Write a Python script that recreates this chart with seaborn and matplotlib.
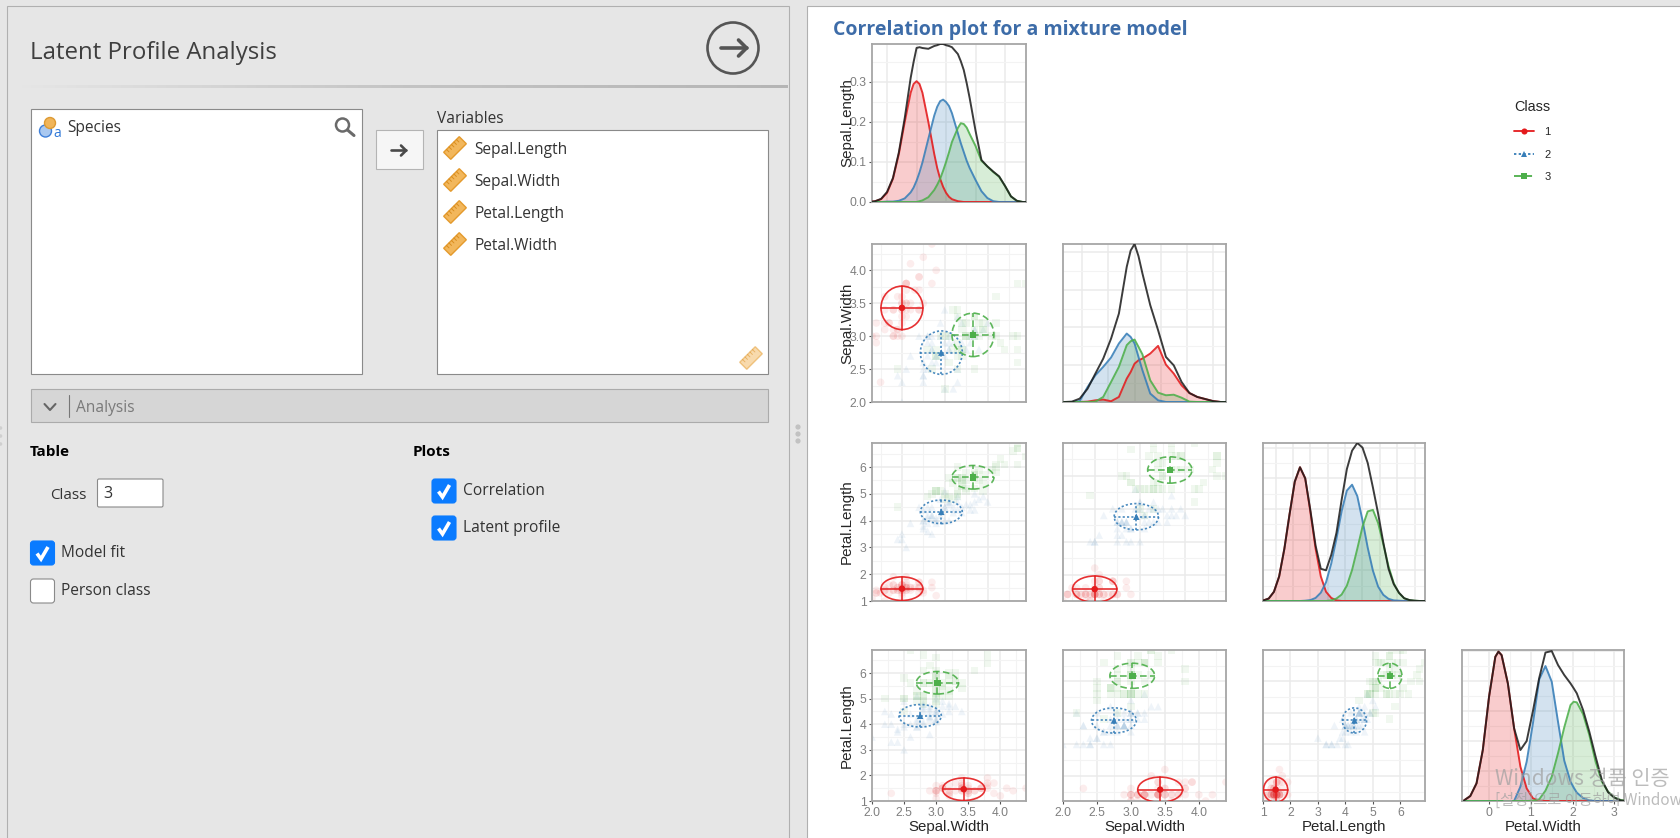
import numpy as np
import pandas as pd
import seaborn as sns
import matplotlib
matplotlib.use('Agg')
import matplotlib.pyplot as plt
from matplotlib.lines import Line2D
from matplotlib.patches import Circle, Ellipse, FancyBboxPatch, Polygon, Rectangle
from matplotlib.ticker import MultipleLocator, NullLocator

# Points
sepal_length = [5.1,4.9,4.7,4.6,5.0,5.4,4.6,5.0,4.4,4.9,5.4,4.8,4.8,4.3,5.8,5.7,5.4,5.1,5.7,5.1,5.4,5.1,4.6,5.1,4.8,
                5.0,5.0,5.2,5.2,4.7,4.8,5.4,5.2,5.5,4.9,5.0,5.5,4.9,4.4,5.1,5.0,4.5,4.4,5.0,5.1,4.8,5.1,4.6,5.3,5.0,
                7.0,6.4,6.9,5.5,6.5,5.7,6.3,4.9,6.6,5.2,5.0,5.9,6.0,6.1,5.6,6.7,5.6,5.8,6.2,5.6,5.9,6.1,6.3,6.1,6.4,
                6.6,6.8,6.7,6.0,5.7,5.5,5.5,5.8,6.0,5.4,6.0,6.7,6.3,5.6,5.5,5.5,6.1,5.8,5.0,5.6,5.7,5.7,6.2,5.1,5.7,
                6.3,5.8,7.1,6.3,6.5,7.6,4.9,7.3,6.7,7.2,6.5,6.4,6.8,5.7,5.8,6.4,6.5,7.7,7.7,6.0,6.9,5.6,7.7,6.3,6.7,
                7.2,6.2,6.1,6.4,7.2,7.4,7.9,6.4,6.3,6.1,7.7,6.3,6.4,6.0,6.9,6.7,6.9,5.8,6.8,6.7,6.7,6.3,6.5,6.2,5.9]
sepal_width = [3.5,3.0,3.2,3.1,3.6,3.9,3.4,3.4,2.9,3.1,3.7,3.4,3.0,3.0,4.0,4.4,3.9,3.5,3.8,3.8,3.4,3.7,3.6,3.3,3.4,
               3.0,3.4,3.5,3.4,3.2,3.1,3.4,4.1,4.2,3.1,3.2,3.5,3.6,3.0,3.4,3.5,2.3,3.2,3.5,3.8,3.0,3.8,3.2,3.7,3.3,
               3.2,3.2,3.1,2.3,2.8,2.8,3.3,2.4,2.9,2.7,2.0,3.0,2.2,2.9,2.9,3.1,3.0,2.7,2.2,2.5,3.2,2.8,2.5,2.8,2.9,
               3.0,2.8,3.0,2.9,2.6,2.4,2.4,2.7,2.7,3.0,3.4,3.1,2.3,3.0,2.5,2.6,3.0,2.6,2.3,2.7,3.0,2.9,2.9,2.5,2.8,
               3.3,2.7,3.0,2.9,3.0,3.0,2.5,2.9,2.5,3.6,3.2,2.7,3.0,2.5,2.8,3.2,3.0,3.8,2.6,2.2,3.2,2.8,2.8,2.7,3.3,
               3.2,2.8,3.0,2.8,3.0,2.8,3.8,2.8,2.8,2.6,3.0,3.4,3.1,3.0,3.1,3.1,3.1,2.7,3.2,3.3,3.0,2.5,3.0,3.4,3.0]
petal_length = [1.4,1.4,1.3,1.5,1.4,1.7,1.4,1.5,1.4,1.5,1.5,1.6,1.4,1.1,1.2,1.5,1.3,1.4,1.7,1.5,1.7,1.5,1.0,1.7,1.9,
                1.6,1.6,1.5,1.4,1.6,1.6,1.5,1.5,1.4,1.5,1.2,1.3,1.4,1.3,1.5,1.3,1.3,1.3,1.6,1.9,1.4,1.6,1.4,1.5,1.4,
                4.7,4.5,4.9,4.0,4.6,4.5,4.7,3.3,4.6,3.9,3.5,4.2,4.0,4.7,3.6,4.4,4.5,4.1,4.5,3.9,4.8,4.0,4.9,4.7,4.3,
                4.4,4.8,5.0,4.5,3.5,3.8,3.7,3.9,5.1,4.5,4.5,4.7,4.4,4.1,4.0,4.4,4.6,4.0,3.3,4.2,4.2,4.2,4.3,3.0,4.1,
                6.0,5.1,5.9,5.6,5.8,6.6,4.5,6.3,5.8,6.1,5.1,5.3,5.5,5.0,5.1,5.3,5.5,6.7,6.9,5.0,5.7,4.9,6.7,4.9,5.7,
                6.0,4.8,4.9,5.6,5.8,6.1,6.4,5.6,5.1,5.6,6.1,5.6,5.5,4.8,5.4,5.6,5.1,5.1,5.9,5.7,5.2,5.0,5.2,5.4,5.1]
petal_width = [0.2,0.2,0.2,0.2,0.2,0.4,0.3,0.2,0.2,0.1,0.2,0.2,0.1,0.1,0.2,0.4,0.4,0.3,0.3,0.3,0.2,0.4,0.2,0.5,0.2,
               0.2,0.4,0.2,0.2,0.2,0.2,0.4,0.1,0.2,0.2,0.2,0.2,0.1,0.2,0.2,0.3,0.3,0.2,0.6,0.4,0.3,0.2,0.2,0.2,0.2,
               1.4,1.5,1.5,1.3,1.5,1.3,1.6,1.0,1.3,1.4,1.0,1.5,1.0,1.4,1.3,1.4,1.5,1.0,1.5,1.1,1.8,1.3,1.5,1.2,1.3,
               1.4,1.4,1.7,1.5,1.0,1.1,1.0,1.2,1.6,1.5,1.6,1.5,1.3,1.3,1.3,1.2,1.4,1.2,1.0,1.3,1.2,1.3,1.3,1.1,1.3,
               2.5,1.9,2.1,1.8,2.2,2.1,1.7,1.8,1.8,2.5,2.0,1.9,2.1,2.0,2.4,2.3,1.8,2.2,2.3,1.5,2.3,2.0,2.0,1.8,2.1,
               1.8,1.8,1.8,2.1,1.6,1.9,2.0,2.2,1.5,1.4,2.3,2.4,1.8,1.8,2.1,2.4,2.3,1.9,2.3,2.5,2.3,1.9,2.0,2.3,1.8]
point_class = [1] * 50 + [2] * 50 + [3] * 50

# Class means and sd
classes = [1, 2, 3]
mean_sl = [5.0, 5.92, 6.66]
mean_sw = [3.43, 2.75, 3.02]
mean_pl = [1.46, 4.33, 5.62]
mean_pw = [0.28, 1.38, 2.09]
sd_sl = 0.49
sd_sw = 0.33
sd_pl = 0.44
sd_pw = 0.2

# Density curves
sl_x = [3.4,3.6,3.8,4.0,4.2,4.4,4.6,4.8,4.9,5.0,5.1,5.2,5.4,5.6,5.7,5.8,5.9,6.0,6.1,6.2,6.4,6.5,6.6,6.7,6.8,7.0,7.2,7.4,7.6,7.8,8.0,8.2,8.4,8.6,8.8]
sl_red = [0,.002,.007,.023,.058,.12,.2,.273,.295,.302,.295,.273,.2,.12,.085,.058,.038,.023,.013,.007,.002,.001,0,0,0,0,0,0,0,0,0,0,0,0,0]
sl_blue = [0,0,0,.001,.001,.003,.009,.024,.036,.053,.074,.099,.158,.216,.238,.252,.256,.25,.24,.222,.172,.147,.125,.103,.085,.055,.027,.01,.002,0,0,0,0,0,0]
sl_green = [0,0,0,0,0,0,0,0,0,0,.002,.004,.012,.03,.043,.058,.078,.1,.124,.15,.185,.197,.195,.186,.17,.14,.103,.089,.075,.063,.04,.014,.003,0,0]
sl_all = [0,.002,.008,.025,.06,.124,.21,.31,.35,.385,.387,.385,.383,.39,.392,.395,.395,.392,.39,.387,.37,.352,.33,.297,.26,.178,.105,.089,.076,.064,.04,.014,.003,0,0]

sw_x = [1.65,1.8,1.95,2.1,2.25,2.4,2.55,2.7,2.85,2.925,3.0,3.075,3.15,3.3,3.45,3.6,3.75,3.9,4.05,4.2,4.35,4.5,4.65,4.8]
sw_red = [0,0,0,.002,.009,.013,.004,.027,.125,.16,.205,.223,.232,.259,.3,.2,.152,.089,.048,.027,.016,.005,0,0]
sw_blue = [0,0,.005,.08,.143,.188,.238,.313,.366,.348,.313,.241,.17,.045,.009,0,0,0,0,0,0,0,0,0]
sw_green = [0,0,0,0,.002,.027,.107,.188,.304,.325,.334,.295,.255,.116,.05,.036,.039,.023,.002,0,0,0,0,0]
sw_all = [0,.002,.018,.071,.152,.232,.339,.473,.723,.81,.845,.78,.688,.518,.384,.241,.196,.107,.048,.027,.016,.005,0,0]

pl_x = [-0.7,-0.4,-0.1,0.2,0.5,0.8,1.1,1.4,1.7,2.0,2.3,2.6,2.9,3.2,3.5,3.8,4.1,4.4,4.7,5.0,5.3,5.6,5.9,6.2,6.5,6.8,7.1,7.4,7.7,8.0,8.3,8.6]
pl_red = [.002,.008,.03,.08,.17,.283,.389,.436,.4,.29,.17,.08,.03,.01,.002,0,0,0,0,0,0,0,0,0,0,0,0,0,0,0,0,0]
pl_blue = [0,0,0,0,0,0,0,0,.001,.003,.01,.027,.061,.122,.203,.293,.36,.379,.342,.263,.174,.099,.047,.02,.007,.002,.001,0,0,0,0,0]
pl_green = [0,0,0,0,0,0,0,0,0,0,0,0,0,.002,.008,.021,.05,.101,.17,.242,.292,.297,.254,.185,.113,.058,.026,.009,.003,.001,0,0]
pl_all = [.002,.008,.03,.08,.17,.283,.389,.436,.4,.295,.18,.105,.1,.15,.222,.33,.43,.49,.515,.5,.45,.37,.285,.19,.105,.055,.027,.009,.003,.001,0,0]

pw_x = [-0.6,-0.45,-0.3,-0.15,0,0.15,0.225,0.3,0.45,0.6,0.75,0.9,1.05,1.2,1.35,1.5,1.65,1.8,1.95,2.025,2.1,2.25,2.4,2.55,2.7,2.85,3.0,3.15,3.3]
pw_red = [.004,.033,.118,.34,.696,.962,.996,.973,.784,.484,.229,.084,.018,.002,0,0,0,0,0,0,0,0,0,0,0,0,0,0,0]
pw_blue = [0,0,0,0,0,0,0,0,0,0,.096,.262,.518,.811,.9,.796,.529,.269,.129,.09,.056,.02,.004,0,0,0,0,0,0]
pw_green = [0,0,0,0,0,0,0,0,0,0,0,0,.002,.011,.069,.162,.318,.491,.64,.662,.658,.58,.44,.262,.129,.062,.024,.007,0]
pw_all = [.004,.033,.118,.34,.696,.962,.996,.973,.784,.484,.34,.4,.6,.82,.99,1.0,.907,.84,.784,.752,.718,.607,.462,.296,.14,.058,.022,.004,0]

variables = ['Sepal.Length', 'Sepal.Width', 'Petal.Length', 'Petal.Width']
colors = {1: '#E41A1C', 2: '#377EB8', 3: '#4DAF4A'}
line_styles = {1: '-', 2: (0, (1.3, 1.3)), 3: (0, (4, 2))}
point_markers = {1: 'o', 2: '^', 3: 's'}

W, H = 1680, 838
sns.set_theme(style='white')
plt.rcParams['font.family'] = ['Liberation Sans', 'DejaVu Sans']

df = pd.DataFrame({'SL': sepal_length, 'SW': sepal_width, 'PL': petal_length, 'PW': petal_width, 'cls': point_class})
means = pd.DataFrame({'SL': mean_sl, 'SW': mean_sw, 'PL': mean_pl, 'PW': mean_pw, 'cls': classes})
sds = {'SL': sd_sl, 'SW': sd_sw, 'PL': sd_pl, 'PW': sd_pw}
limits = {'SL': (4.3, 7.9), 'SW': (2.0, 4.4), 'PL': (1.0, 6.9), 'PW': (0.1, 2.5)}
grid_steps = {'SL': (1, 0.5), 'SW': (0.5, 0.25), 'PL': (1, 0.5), 'PW': (0.5, 0.25)}

fig = plt.figure(figsize=(W / 100, H / 100), dpi=100)
bg = fig.add_axes([0, 0, 1, 1])
bg.set_xlim(0, W)
bg.set_ylim(H, 0)
bg.axis('off')


def panel(x0, y0, x1, y1):
    ax = fig.add_axes([x0 / W, 1 - y1 / H, (x1 - x0) / W, (y1 - y0) / H])
    ax.set_facecolor('white')
    for s in ax.spines.values():
        s.set_color('#a6a6a6')
        s.set_linewidth(1.3)
    return ax


def style_panel(ax, xsteps, ysteps, show_x=False, show_y=False):
    ax.xaxis.set_major_locator(MultipleLocator(xsteps[0]))
    ax.yaxis.set_major_locator(MultipleLocator(ysteps[0]))
    ax.xaxis.set_minor_locator(MultipleLocator(xsteps[1]) if xsteps[1] else NullLocator())
    ax.yaxis.set_minor_locator(MultipleLocator(ysteps[1]) if ysteps[1] else NullLocator())
    ax.grid(True, which='major', color='#ebebeb', lw=1.1, zorder=0)
    ax.grid(True, which='minor', color='#f3f3f3', lw=0.8, zorder=0)
    ax.set_axisbelow(True)
    ax.tick_params(which='minor', length=0)
    ax.tick_params(axis='x', which='major', bottom=show_x, labelbottom=show_x, length=2.5, width=0.8,
                   color='#555555', labelcolor='#7f7f7f', labelsize=8.7, pad=1.5)
    ax.tick_params(axis='y', which='major', left=show_y, labelleft=show_y, length=2.5, width=0.8,
                   color='#555555', labelcolor='#7f7f7f', labelsize=8.7, pad=1.5)
    ax.set_xlabel('')
    ax.set_ylabel('')


def labels(ax, xlabel=None, ylabel=None):
    if xlabel:
        ax.set_xlabel(xlabel, fontsize=10.8, color='#262626')
        ax.xaxis.set_label_coords(0.5, -0.172)
        ax.xaxis.label.set_va('center')
    if ylabel:
        ax.set_ylabel(ylabel, fontsize=10.9, color='#262626')
        ax.yaxis.set_label_coords(-0.162, 0.5)
        ax.yaxis.label.set_va('center')


def density(ax, x, red, blue, green, total, xlim, ylim):
    for cid, vals in zip(classes, [red, blue, green]):
        ax.fill_between(x, vals, color=colors[cid], alpha=0.22, lw=0, zorder=2)
        sns.lineplot(x=x, y=vals, color=colors[cid], lw=1.4, alpha=0.88, ax=ax, zorder=3, errorbar=None)
    sns.lineplot(x=x, y=total, color='#1a1a1a', alpha=0.85, lw=1.4, ax=ax, zorder=4, errorbar=None)
    ax.set_xlim(*xlim)
    ax.set_ylim(*ylim)


def scatter(ax, xv, yv, show_x=False, show_y=False, xsteps=None):
    sns.scatterplot(data=df, x=xv, y=yv, hue='cls', style='cls', palette=colors, markers=point_markers,
                    s=30, alpha=0.08, linewidth=0, legend=False, ax=ax, zorder=2)
    for _, row in means.iterrows():
        cid = int(row['cls'])
        mx, my = row[xv], row[yv]
        sx, sy = sds[xv], sds[yv]
        ax.add_patch(Ellipse((mx, my), 2 * sx, 2 * sy, fill=False, ec=colors[cid], lw=1.2, alpha=0.9,
                             ls=line_styles[cid], zorder=3))
        ax.plot([mx - sx, mx + sx], [my, my], color=colors[cid], lw=1.2, alpha=0.9, ls=line_styles[cid], zorder=3)
        ax.plot([mx, mx], [my - sy, my + sy], color=colors[cid], lw=1.2, alpha=0.9, ls=line_styles[cid], zorder=3)
    sns.scatterplot(data=means, x=xv, y=yv, hue='cls', style='cls', palette=colors, markers=point_markers,
                    s=22, linewidth=0, legend=False, ax=ax, zorder=4)
    ax.set_xlim(*limits[xv])
    ax.set_ylim(*limits[yv])
    style_panel(ax, xsteps or grid_steps[xv], grid_steps[yv], show_x, show_y)


# ---- left options panel ----
fig.patch.set_facecolor('#e6e6e6')
UI = ['Open Sans', 'DejaVu Sans']


def ui_text(x, y, s, size=11, color='#333333', **kw):
    bg.text(x, y + 2, s, fontsize=size, color=color, family=UI, va='center', ha=kw.pop('ha', 'left'), **kw)


def box(x0, y0, x1, y1, fc='white', ec='#8a8a8a', lw=0.8, radius=0):
    if radius:
        bg.add_patch(FancyBboxPatch((x0, y0), x1 - x0, y1 - y0, boxstyle=f'round,pad=0,rounding_size={radius}',
                                    fc=fc, ec=ec, lw=lw))
    else:
        bg.add_patch(Rectangle((x0, y0), x1 - x0, y1 - y0, fc=fc, ec=ec, lw=lw))


def ruler(cx, cy, alpha=1.0):
    d = np.array([1, -1]) / np.sqrt(2)
    n = np.array([1, 1]) / np.sqrt(2)
    c = np.array([cx, cy])
    pts = [c - 11 * d - 5 * n, c + 11 * d - 5 * n, c + 11 * d + 5 * n, c - 11 * d + 5 * n]
    bg.add_patch(Polygon(pts, closed=True, fc='#f2b75c', ec='#e49a2c', lw=1.0, alpha=alpha))
    for t in [-7, -3.5, 0, 3.5, 7]:
        a = c + t * d - 5 * n
        b = a + 3.5 * n
        bg.plot([a[0], b[0]], [a[1], b[1]], color='#d98d1f', lw=0.7, alpha=alpha)


def checkbox(x, y, checked=True):
    if checked:
        box(x, y, x + 24, y + 24, fc='#0a7bff', ec='#0a7bff', radius=3)
        bg.plot([x + 6.5, x + 10.5, x + 17.5], [y + 12.5, y + 18, y + 6], color='white', lw=2.6,
                solid_capstyle='butt', solid_joinstyle='miter')
    else:
        box(x, y, x + 24, y + 24, fc='white', ec='#8a8a8a', radius=3)


def arrow(cx, cy, half, head, lw, color='#555555'):
    bg.plot([cx - half, cx + half], [cy, cy], color=color, lw=lw, solid_capstyle='round')
    bg.plot([cx + half - head, cx + half, cx + half - head], [cy - head, cy, cy + head], color=color, lw=lw,
            solid_capstyle='round', solid_joinstyle='round')


box(7, 6, 789, 860, fc='#e6e6e6', ec='#b0b0b0')
box(807, 6, 1700, 860, fc='white', ec='#b0b0b0')
ui_text(30.5, 51, 'Latent Profile Analysis', size=17.3, color='#3f3f3f')
bg.add_patch(Circle((733, 48), 25.5, fc='none', ec='#555555', lw=1.9))
arrow(733.5, 48, 13, 8, 2.6)
gradient = np.linspace(0, 1, 256).reshape(1, -1)
bg.imshow(gradient, extent=(19, 788, 88.5, 85.5), aspect='auto', cmap=matplotlib.colors.LinearSegmentedColormap.from_list(
    'sep', ['#e6e6e6', '#c4c4c4', '#b5b5b5']), zorder=1)
bg.set_xlim(0, W)
bg.set_ylim(H, 0)

box(30.5, 109, 362, 374)
bg.add_patch(Circle((45.5, 131), 6, fc='#a9c8f0', ec='#3e7fd9', lw=1))
bg.add_patch(Circle((50, 123), 5.5, fc='#f0b55a', ec='#dd9a33', lw=1))
ui_text(53, 131.5, 'a', size=10, color='#2f78d8')
ui_text(67, 125.5, 'Species', size=11.2)
bg.add_patch(Circle((342.5, 125), 6.5, fc='none', ec='#6a6a6a', lw=1.8))
bg.plot([347.5, 354], [130, 135.5], color='#6a6a6a', lw=2.2, solid_capstyle='round')
box(375.5, 130, 422.5, 169, fc='#f6f6f6', ec='#b4b4b4')
arrow(398.5, 150.5, 7.5, 5, 1.9, '#4a4a4a')
ui_text(437, 117, 'Variables', size=11.2)
box(437, 130, 768, 374)
for yy, name in zip([148, 180, 212, 244], variables):
    ruler(455, yy)
    ui_text(474, yy - 0.5, name, size=11.2)
ruler(751, 358, alpha=0.5)

box(30.5, 389, 768, 422, fc='#d6d6d6', ec='#ababab')
bg.plot([44.5, 50, 55.5], [404, 410, 404], color='#666666', lw=1.5)
bg.plot([69, 69], [395, 417], color='#777777', lw=0.8)
ui_text(76.5, 405.5, 'Analysis', size=11.2, color='#7a7a7a')
ui_text(30, 449.5, 'Table', size=11, color='black', fontweight='bold')
ui_text(413, 449.5, 'Plots', size=11, color='black', fontweight='bold')
ui_text(50, 493.5, 'Class', size=11)
box(97.5, 479, 163, 507, ec='#8a8a8a', radius=1.5)
ui_text(103.5, 491.5, '3', size=11.5)
checkbox(432, 479)
ui_text(463, 488.5, 'Correlation', size=11.2)
checkbox(432, 516)
ui_text(463, 525.5, 'Latent profile', size=11.2)
checkbox(30.5, 541)
ui_text(61, 550.5, 'Model fit', size=11.2)
checkbox(30.5, 579, checked=False)
ui_text(61, 588.5, 'Person class', size=11.2)
for yy in [427, 434, 441]:
    bg.add_patch(Circle((798, yy), 2.6, fc='#c2c2c2', ec='none'))
for yy in [428, 436, 444]:
    bg.add_patch(Circle((0.5, yy), 1.8, fc='#cfcfcf', ec='none'))

# ---- chart ----
bg.text(833, 29.5, 'Correlation plot for a mixture model', fontsize=14.05, fontweight='bold', color='#3d6ca8',
        family=UI, va='center')

cols = [(872, 1026), (1063, 1226), (1263, 1425), (1462, 1624)]
rows = [(44, 202), (244, 402), (443, 601), (650, 801)]

ax = panel(cols[0][0], rows[0][0], cols[0][1], rows[0][1])
density(ax, sl_x, sl_red, sl_blue, sl_green, sl_all, (3.49, 8.71), (0, 0.395))
style_panel(ax, (1, 0), (0.1, 0.05), show_y=True)
ax.yaxis.set_major_formatter('{x:.1f}')
labels(ax, ylabel='Sepal.Length')

ax = panel(cols[0][0], rows[1][0], cols[0][1], rows[1][1])
scatter(ax, 'SL', 'SW', show_y=True)
ax.yaxis.set_major_formatter('{x:.1f}')
labels(ax, ylabel='Sepal.Width')

ax = panel(cols[1][0], rows[1][0], cols[1][1], rows[1][1])
density(ax, sw_x, sw_red, sw_blue, sw_green, sw_all, (1.63, 4.75), (0, 0.845))
style_panel(ax, (0.5, 0), (0.2, 0.1))

ax = panel(cols[0][0], rows[2][0], cols[0][1], rows[2][1])
scatter(ax, 'SL', 'PL', show_y=True)
labels(ax, ylabel='Petal.Length')

ax = panel(cols[1][0], rows[2][0], cols[1][1], rows[2][1])
scatter(ax, 'SL', 'PW')

ax = panel(cols[2][0], rows[2][0], cols[2][1], rows[2][1])
density(ax, pl_x, pl_red, pl_blue, pl_green, pl_all, (-0.73, 8.6), (0, 0.515))
style_panel(ax, (1, 0), (0.1, 0.05))

ax = panel(cols[0][0], rows[3][0], cols[0][1], rows[3][1])
scatter(ax, 'SW', 'PL', show_x=True, show_y=True)
ax.xaxis.set_major_formatter('{x:.1f}')
labels(ax, xlabel='Sepal.Width', ylabel='Petal.Length')

ax = panel(cols[1][0], rows[3][0], cols[1][1], rows[3][1])
scatter(ax, 'SW', 'PW', show_x=True)
ax.xaxis.set_major_formatter('{x:.1f}')
labels(ax, xlabel='Sepal.Width')

ax = panel(cols[2][0], rows[3][0], cols[2][1], rows[3][1])
scatter(ax, 'PL', 'PW', show_x=True, xsteps=(1, 0))
labels(ax, xlabel='Petal.Length')

ax = panel(cols[3][0], rows[3][0], cols[3][1], rows[3][1])
density(ax, pw_x, pw_red, pw_blue, pw_green, pw_all, (-0.648, 3.23), (0, 1.007))
style_panel(ax, (1, 0.5), (0.2, 0.1), show_x=True)
labels(ax, xlabel='Petal.Width')

handles = [Line2D([], [], color=colors[c], ls=line_styles[c], marker=point_markers[c], markersize=4.4,
                  lw=1.3, markeredgewidth=0) for c in classes]
leg = fig.legend(handles, [str(c) for c in classes], title='Class', loc='upper left',
                 bbox_to_anchor=(1504 / W, 1 - 90 / H), frameon=False, fontsize=8, title_fontsize=10.4,
                 labelspacing=1.15, handlelength=1.8, handletextpad=0.95, alignment='left')

# Windows watermark sits over everything
KR = ['Noto Sans CJK KR', 'DejaVu Sans']
fig.text(1495 / W, 1 - 779 / H, 'Windows 정품 인증', fontsize=15, color='#a0a0a0', alpha=0.7, family=KR, va='center')
fig.text(1495 / W, 1 - 800 / H, '[설정]으로 이동하여 Windows', fontsize=11, color='#a0a0a0', alpha=0.7, family=KR, va='center')

fig.savefig('out.png', dpi=100, facecolor=fig.get_facecolor())
